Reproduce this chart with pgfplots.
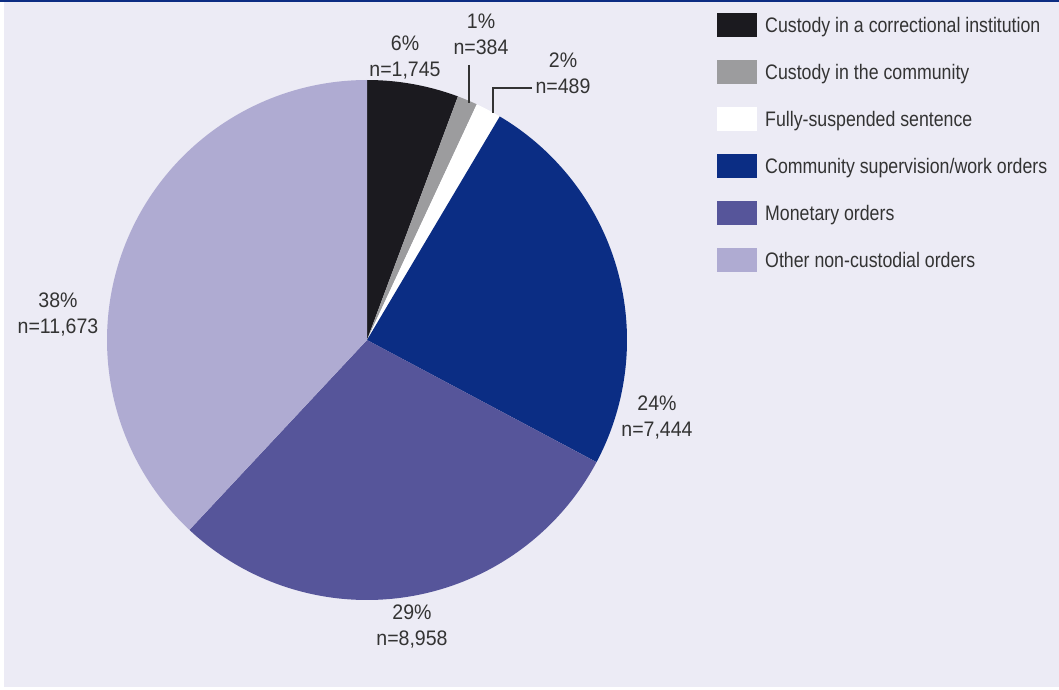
\documentclass[border=0pt]{standalone}
\usepackage{pgfplots}
\pgfplotsset{compat=1.18}
\usepackage{fontspec}
\setmainfont{Liberation Sans}[FakeStretch=0.845]
\newfontfamily\lblfont{Liberation Sans}[FakeStretch=0.93]
\definecolor{bg}{HTML}{ECEBF5}
\definecolor{topline}{HTML}{0C2D83}
\definecolor{cA}{HTML}{1B1A1F}
\definecolor{cB}{HTML}{9C9C9E}
\definecolor{cC}{HTML}{FFFFFF}
\definecolor{cD}{HTML}{0B2D84}
\definecolor{cE}{HTML}{56559A}
\definecolor{cF}{HTML}{AFABD2}
\definecolor{txt}{HTML}{333333}
\tikzset{lbl/.style={align=center, inner sep=0pt, text=txt, font=\fontsize{21}{26}\selectfont\lblfont}}
% counts
\def\nA{1745}\def\nB{384}\def\nC{489}\def\nD{7444}\def\nE{8958}\def\nF{11673}
\pgfmathsetmacro{\tot}{\nA/1000+\nB/1000+\nC/1000+\nD/1000+\nE/1000+\nF/1000}
\pgfmathsetmacro{\aA}{90}
\pgfmathsetmacro{\aB}{\aA-360*(\nA/1000)/\tot}
\pgfmathsetmacro{\aC}{\aB-360*(\nB/1000)/\tot}
\pgfmathsetmacro{\aD}{\aC-360*(\nC/1000)/\tot}
\pgfmathsetmacro{\aE}{\aD-360*(\nD/1000)/\tot}
\pgfmathsetmacro{\aF}{\aE-360*(\nE/1000)/\tot}
\pgfmathsetmacro{\aG}{-270}
\def\cx{367}\def\cy{349}\def\R{260}
\newcommand{\legitem}[3]{% y-top (axis), colour, text
  \fill[#2] (axis cs:717,#1) rectangle (axis cs:757,#1-24);
  \node[anchor=base west, inner sep=0pt, text=txt] at (axis cs:765,#1-19.3) {#3};}
\begin{document}
\begin{tikzpicture}
\begin{axis}[
  x=1pt, y=1pt, xmin=0, xmax=1059, ymin=0, ymax=689,
  scale only axis, hide axis, clip=false,
  font=\fontsize{21}{26}\selectfont,
  every node/.append style={text=txt},
]
\fill[white] (axis cs:0,0) rectangle (axis cs:1059,689);
\fill[bg] (axis cs:4,2) rectangle (axis cs:1059,687);
\fill[topline] (axis cs:0,687) rectangle (axis cs:1059,689);

\addplot[fill=cA, draw=none, domain=\aB:\aA, samples=40, variable=\t]
  ({\cx+\R*cos(t)},{\cy+\R*sin(t)}) -- (axis cs:\cx,\cy) -- cycle;
\addplot[fill=cB, draw=none, domain=\aC:\aB, samples=10, variable=\t]
  ({\cx+\R*cos(t)},{\cy+\R*sin(t)}) -- (axis cs:\cx,\cy) -- cycle;
\addplot[fill=cC, draw=none, domain=\aD:\aC, samples=10, variable=\t]
  ({\cx+\R*cos(t)},{\cy+\R*sin(t)}) -- (axis cs:\cx,\cy) -- cycle;
\addplot[fill=cD, draw=none, domain=\aE:\aD, samples=100, variable=\t]
  ({\cx+\R*cos(t)},{\cy+\R*sin(t)}) -- (axis cs:\cx,\cy) -- cycle;
\addplot[fill=cE, draw=none, domain=\aF:\aE, samples=100, variable=\t]
  ({\cx+\R*cos(t)},{\cy+\R*sin(t)}) -- (axis cs:\cx,\cy) -- cycle;
\addplot[fill=cF, draw=none, domain=\aG:\aF, samples=120, variable=\t]
  ({\cx+\R*cos(t)},{\cy+\R*sin(t)}) -- (axis cs:\cx,\cy) -- cycle;

\legitem{676}{cA}{Custody in a correctional institution}
\legitem{629}{cB}{Custody in the community}
\legitem{582}{cC}{Fully-suspended sentence}
\legitem{535}{cD}{Community supervision/work orders}
\legitem{488}{cE}{Monetary orders}
\legitem{441}{cF}{Other non-custodial orders}

\draw[txt, line width=1.2pt] (axis cs:469,624) -- (axis cs:469,586);
\draw[txt, line width=1.2pt] (axis cs:532,601) -- (axis cs:493,601) -- (axis cs:493,576);

\node[lbl] at (axis cs:405,631.5) {6\%\\n=1,745};
\node[lbl] at (axis cs:481,654.5) {1\%\\n=384};
\node[lbl] at (axis cs:563,616) {2\%\\n=489};
\node[lbl] at (axis cs:657,271.5) {24\%\\n=7,444};
\node[lbl] at (axis cs:412,62.5) {29\%\\n=8,958};
\node[lbl] at (axis cs:58,374.5) {38\%\\n=11,673};
\end{axis}
\end{tikzpicture}
\end{document}
